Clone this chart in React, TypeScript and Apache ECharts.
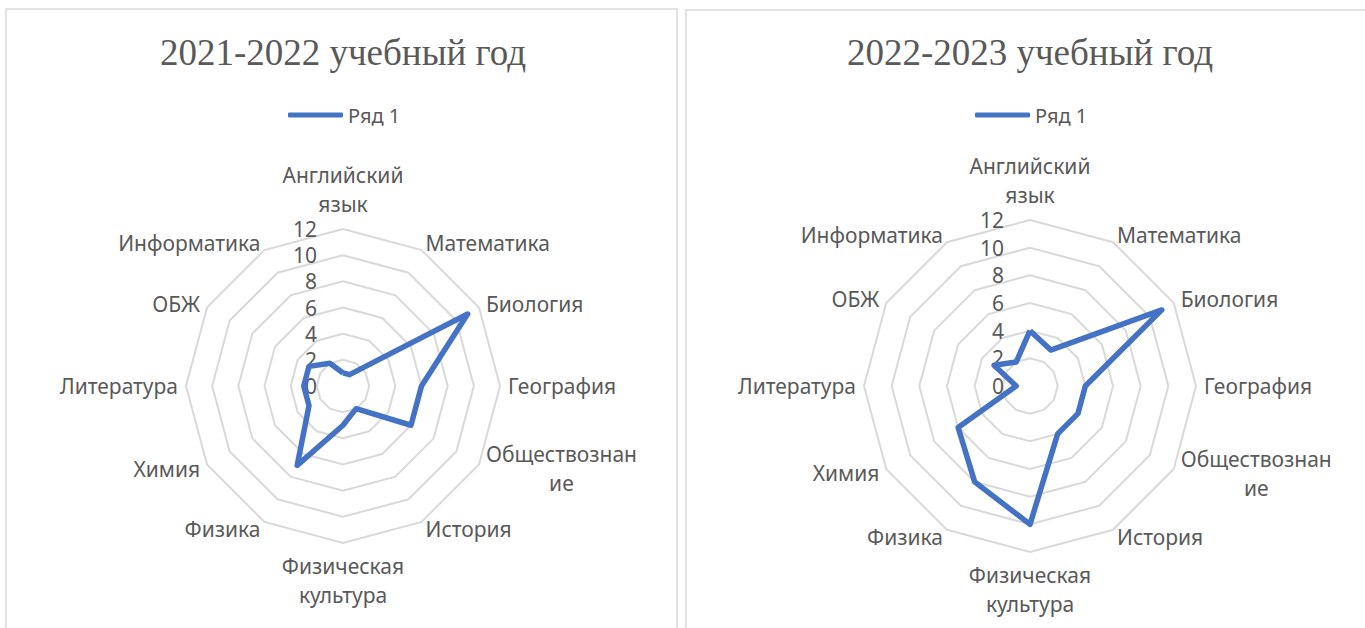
import React, { useEffect, useRef } from 'react';
import * as echarts from 'echarts';

// Subjects in clockwise order, starting at the top
const subjects = [
  'Английский\nязык',
  'Математика',
  'Биология',
  'География',
  'Обществознан\nие',
  'История',
  'Физическая\nкультура',
  'Физика',
  'Химия',
  'Литература',
  'ОБЖ',
  'Информатика',
];
const values2021 = [1, 1, 11, 6, 6, 2, 3, 7, 3, 3, 3, 2];
const values2022 = [4, 3, 11, 4, 4, 4, 10, 8, 6, 1, 3, 2];
const titles = ['2021-2022 учебный год', '2022-2023 учебный год'];
const seriesName = 'Ряд 1';
const axisMin = 0;
const axisMax = 12;
const axisSplits = 6;

const SANS = '"Noto Sans", "Open Sans", sans-serif';
const SERIF = '"Liberation Serif", "Times New Roman", serif';
const GRAY = '#595959';
const BLUE = '#4472C4';

// ECharts radar lays indicators out counter-clockwise; reorder so the
// first stays at the top and the rest run clockwise.
function clockwise<T>(arr: T[]): T[] {
  return [arr[0], ...arr.slice(1).reverse()];
}

function makeRadar(center: [number, number], radius: number) {
  return {
    center,
    radius,
    startAngle: 90,
    shape: 'polygon',
    splitNumber: axisSplits,
    nameGap: 8,
    indicator: clockwise(subjects).map((name, i) =>
      i === 0
        ? { name, min: axisMin, max: axisMax }
        : { name, min: axisMin, max: axisMax, axisLabel: { show: false } }
    ),
    axisName: {
      color: GRAY,
      fontSize: 21,
      fontFamily: SANS,
      lineHeight: 29,
      formatter: (v: string) =>
        v
          .split('\n')
          .map((s) => `{c|${s}}`)
          .join('\n'),
      rich: {
        c: {
          align: 'center',
          color: GRAY,
          fontSize: 21,
          fontFamily: SANS,
          lineHeight: 29,
        },
      },
    },
    splitLine: { lineStyle: { color: '#d9d9d9', width: 2 } },
    splitArea: { show: false },
    axisLine: { show: false },
    axisTick: { show: false },
    axisLabel: {
      show: true,
      color: GRAY,
      fontSize: 21,
      fontFamily: SANS,
      margin: 26,
    },
  };
}

export default function App() {
  const ref = useRef<HTMLDivElement>(null);
  useEffect(() => {
    if (!ref.current) return;
    const chart = echarts.init(ref.current, null, { renderer: 'svg' });
    const centers: [number, number][] = [
      [343, 386],
      [1030, 386],
    ];
    const titleOpt = (text: string, x: number) => ({
      text,
      left: x,
      top: 34,
      textAlign: 'center',
      padding: 0,
      textStyle: {
        fontFamily: SERIF,
        fontSize: 37,
        fontWeight: 'normal',
        color: GRAY,
      },
    });
    const legendOpt = (x: number) => ({
      left: x,
      top: 105,
      padding: 0,
      data: [seriesName],
      icon: 'roundRect',
      itemWidth: 55,
      itemHeight: 5,
      itemGap: 5,
      textStyle: { color: GRAY, fontSize: 20, fontFamily: SANS },
    });
    const seriesOpt = (radarIndex: number, values: number[]) => ({
      type: 'radar',
      name: seriesName,
      radarIndex,
      symbol: 'none',
      itemStyle: { color: BLUE },
      lineStyle: { color: BLUE, width: 5.5, join: 'round' },
      data: [{ value: clockwise(values), name: seriesName }],
    });
    chart.setOption({
      animation: false,
      backgroundColor: '#ffffff',
      title: [titleOpt(titles[0], centers[0][0]), titleOpt(titles[1], centers[1][0])],
      legend: [legendOpt(288), legendOpt(975)],
      radar: [makeRadar(centers[0], 157), makeRadar(centers[1], 166)],
      graphic: [
        {
          type: 'rect',
          shape: { x: 6, y: 9, width: 671, height: 700 },
          style: { fill: 'none', stroke: '#d9d9d9', lineWidth: 1.5 },
          silent: true,
        },
        {
          type: 'rect',
          shape: { x: 686, y: 10, width: 700, height: 700 },
          style: { fill: 'none', stroke: '#d9d9d9', lineWidth: 1.5 },
          silent: true,
        },
      ],
      series: [seriesOpt(0, values2021), seriesOpt(1, values2022)],
    });
    return () => chart.dispose();
  }, []);
  return (
    <div
      ref={ref}
      style={{ position: 'absolute', left: 0, top: 0, width: 1365, height: 628 }}
    />
  );
}
